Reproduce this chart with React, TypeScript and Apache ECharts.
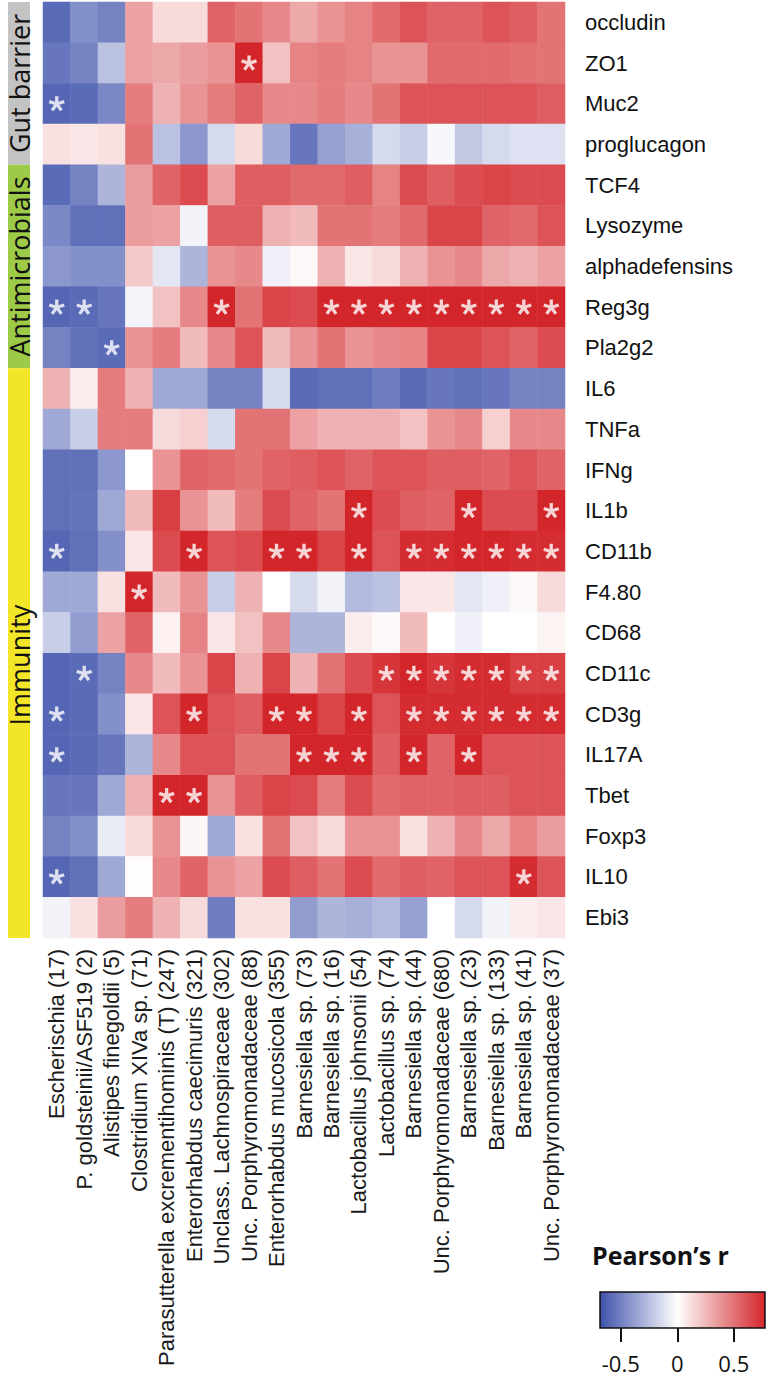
import React, { useEffect, useRef } from "react";
import * as echarts from "echarts";

// ---------- data ----------
const taxa = [
  "Escherischia (17)",
  "P. goldsteinii/ASF519 (2)",
  "Alistipes finegoldii (5)",
  "Clostridium XIVa sp. (71)",
  "Parasutterella excrementihominis (T) (247)",
  "Enterorhabdus caecimuris (321)",
  "Unclass. Lachnospiraceae (302)",
  "Unc. Porphyromonadaceae (88)",
  "Enterorhabdus mucosicola (355)",
  "Barnesiella sp. (73)",
  "Barnesiella sp. (16)",
  "Lactobacillus johnsonii (54)",
  "Lactobacillus sp. (74)",
  "Barnesiella sp. (44)",
  "Unc. Porphyromonadaceae (680)",
  "Barnesiella sp. (23)",
  "Barnesiella sp. (133)",
  "Barnesiella sp. (41)",
  "Unc. Porphyromonadaceae (37)",
];

const genes = [
  "occludin", "ZO1", "Muc2", "proglucagon",
  "TCF4", "Lysozyme", "alphadefensins", "Reg3g", "Pla2g2",
  "IL6", "TNFa", "IFNg", "IL1b", "CD11b", "F4.80", "CD68", "CD11c", "CD3g", "IL17A", "Tbet", "Foxp3", "IL10", "Ebi3",
];

// Pearson's r, one row per gene, columns follow taxa
const gutBarrierR = [
  [-0.6, -0.45, -0.5, 0.3, 0.12, 0.12, 0.5, 0.45, 0.38, 0.28, 0.35, 0.4, 0.48, 0.55, 0.5, 0.5, 0.55, 0.52, 0.45],
  [-0.55, -0.5, -0.25, 0.3, 0.28, 0.32, 0.35, 0.72, 0.2, 0.4, 0.42, 0.4, 0.35, 0.35, 0.48, 0.48, 0.48, 0.46, 0.45],
  [-0.62, -0.6, -0.48, 0.42, 0.25, 0.35, 0.42, 0.5, 0.38, 0.38, 0.42, 0.38, 0.45, 0.55, 0.55, 0.55, 0.55, 0.55, 0.52],
  [0.1, 0.08, 0.1, 0.45, -0.25, -0.42, -0.15, 0.12, -0.35, -0.55, -0.38, -0.32, -0.15, -0.2, -0.03, -0.22, -0.15, -0.12, -0.12],
];
const antimicrobialsR = [
  [-0.6, -0.5, -0.3, 0.32, 0.5, 0.58, 0.3, 0.52, 0.52, 0.48, 0.48, 0.52, 0.4, 0.58, 0.52, 0.58, 0.6, 0.58, 0.58],
  [-0.48, -0.58, -0.58, 0.32, 0.3, -0.05, 0.52, 0.52, 0.25, 0.22, 0.45, 0.45, 0.42, 0.48, 0.6, 0.6, 0.5, 0.48, 0.55],
  [-0.42, -0.45, -0.45, 0.18, -0.1, -0.3, 0.35, 0.38, -0.06, 0.02, 0.25, 0.08, 0.12, 0.25, 0.35, 0.38, 0.28, 0.25, 0.3],
  [-0.62, -0.6, -0.55, -0.04, 0.2, 0.38, 0.7, 0.45, 0.6, 0.58, 0.72, 0.72, 0.72, 0.72, 0.72, 0.72, 0.72, 0.72, 0.72],
  [-0.5, -0.58, -0.6, 0.35, 0.42, 0.22, 0.38, 0.55, 0.22, 0.35, 0.45, 0.35, 0.38, 0.4, 0.6, 0.6, 0.55, 0.5, 0.58],
];
const immunityR = [
  [0.25, 0.06, 0.42, 0.25, -0.35, -0.35, -0.5, -0.5, -0.15, -0.6, -0.58, -0.58, -0.52, -0.6, -0.55, -0.58, -0.55, -0.5, -0.5],
  [-0.35, -0.2, 0.42, 0.42, 0.12, 0.15, -0.15, 0.45, 0.45, 0.3, 0.25, 0.25, 0.25, 0.2, 0.35, 0.38, 0.15, 0.38, 0.38],
  [-0.58, -0.58, -0.42, 0.0, 0.35, 0.5, 0.48, 0.45, 0.5, 0.52, 0.55, 0.5, 0.55, 0.55, 0.52, 0.52, 0.5, 0.55, 0.5],
  [-0.58, -0.56, -0.35, 0.22, 0.62, 0.35, 0.22, 0.42, 0.58, 0.5, 0.45, 0.7, 0.58, 0.52, 0.5, 0.7, 0.58, 0.58, 0.7],
  [-0.62, -0.58, -0.45, 0.08, 0.58, 0.72, 0.55, 0.58, 0.72, 0.7, 0.6, 0.72, 0.55, 0.68, 0.68, 0.7, 0.7, 0.68, 0.68],
  [-0.35, -0.35, 0.1, 0.7, 0.22, 0.35, -0.2, 0.25, 0.0, -0.15, -0.05, -0.28, -0.25, 0.08, 0.08, -0.1, -0.06, 0.02, 0.12],
  [-0.2, -0.4, 0.3, 0.5, 0.05, 0.4, 0.08, 0.2, 0.38, -0.3, -0.3, 0.06, 0.02, 0.22, 0.0, -0.06, 0.0, 0.0, 0.04],
  [-0.62, -0.6, -0.5, 0.38, 0.22, 0.35, 0.6, 0.25, 0.6, 0.25, 0.45, 0.58, 0.65, 0.7, 0.65, 0.68, 0.68, 0.62, 0.62],
  [-0.62, -0.6, -0.45, 0.08, 0.55, 0.72, 0.55, 0.52, 0.72, 0.7, 0.6, 0.72, 0.55, 0.68, 0.68, 0.68, 0.68, 0.68, 0.68],
  [-0.62, -0.6, -0.55, -0.3, 0.38, 0.55, 0.55, 0.45, 0.45, 0.7, 0.7, 0.72, 0.52, 0.7, 0.5, 0.7, 0.55, 0.55, 0.55],
  [-0.55, -0.55, -0.35, 0.25, 0.7, 0.72, 0.35, 0.52, 0.6, 0.58, 0.42, 0.58, 0.48, 0.5, 0.5, 0.52, 0.52, 0.55, 0.55],
  [-0.5, -0.45, -0.08, 0.12, 0.35, 0.03, -0.35, 0.1, 0.45, 0.2, 0.12, 0.35, 0.35, 0.1, 0.25, 0.38, 0.28, 0.4, 0.32],
  [-0.62, -0.58, -0.35, 0.01, 0.38, 0.5, 0.35, 0.3, 0.58, 0.52, 0.45, 0.58, 0.48, 0.52, 0.5, 0.55, 0.55, 0.68, 0.55],
  [-0.05, 0.1, 0.32, 0.42, 0.25, 0.12, -0.52, 0.1, 0.1, -0.4, -0.3, -0.32, -0.28, -0.38, 0.0, -0.15, -0.05, 0.06, 0.08],
];

// significant correlations: gene -> taxa column indices
const significant: Record<string, number[]> = {
  ZO1: [7],
  Muc2: [0],
  Reg3g: [0, 1, 6, 10, 11, 12, 13, 14, 15, 16, 17, 18],
  Pla2g2: [2],
  IL1b: [11, 15, 18],
  CD11b: [0, 5, 8, 9, 11, 13, 14, 15, 16, 17, 18],
  "F4.80": [3],
  CD11c: [1, 12, 13, 14, 15, 16, 17, 18],
  CD3g: [0, 5, 8, 9, 11, 13, 14, 15, 16, 17, 18],
  IL17A: [0, 9, 10, 11, 13, 15],
  Tbet: [4, 5],
  IL10: [0, 17],
};

const groups = [
  { name: "Gut barrier", first: "occludin", last: "proglucagon", color: "#c3c3c3" },
  { name: "Antimicrobials", first: "TCF4", last: "Pla2g2", color: "#9dcb48" },
  { name: "Immunity", first: "IL6", last: "Ebi3", color: "#f3e629" },
];

const legendTicks = [-0.5, 0, 0.5];
const legendMin = -0.684;
const legendMax = 0.776;

// ---------- styling / layout ----------
const BLUE = "#3f52ab";
const RED = "#d3262a";
const GRID = { left: 43, top: 2, width: 522, height: 936 };

function asteriskPath(): string {
  const L = 10;
  const w = 2.1;
  const rin = w / Math.sin(Math.PI / 5);
  const pts: string[] = [];
  for (let k = 0; k < 5; k++) {
    const a = -Math.PI / 2 + (k * 2 * Math.PI) / 5;
    const tx = L * Math.cos(a), ty = L * Math.sin(a);
    const px = -Math.sin(a), py = Math.cos(a);
    pts.push(`${(tx - w * px).toFixed(3)} ${(ty - w * py).toFixed(3)}`);
    pts.push(`${(tx + w * px).toFixed(3)} ${(ty + w * py).toFixed(3)}`);
    const b = a + Math.PI / 5;
    pts.push(`${(rin * Math.cos(b)).toFixed(3)} ${(rin * Math.sin(b)).toFixed(3)}`);
  }
  return "path://M" + pts.join(" L") + " Z";
}

export default function App() {
  const ref = useRef<HTMLDivElement>(null);

  useEffect(() => {
    if (!ref.current) return;
    const chart = echarts.init(ref.current, null, { renderer: "svg" });

    const allRows = [...gutBarrierR, ...antimicrobialsR, ...immunityR];
    const heat: number[][] = [];
    allRows.forEach((row, gi) => row.forEach((v, ti) => heat.push([ti, gi, v])));

    const stars: number[][] = [];
    Object.keys(significant).forEach((g) => {
      const gi = genes.indexOf(g);
      significant[g].forEach((ti) => stars.push([ti, gi]));
    });

    const rowH = GRID.height / genes.length;
    const graphics: any[] = [];
    groups.forEach((g) => {
      const i0 = genes.indexOf(g.first);
      const i1 = genes.indexOf(g.last);
      const y0 = GRID.top + i0 * rowH;
      const y1 = GRID.top + (i1 + 1) * rowH;
      graphics.push({
        type: "rect",
        shape: { x: 8, y: y0, width: 22, height: y1 - y0 },
        style: { fill: g.color },
        silent: true,
      });
      graphics.push({
        type: "text",
        x: 19,
        y: g.name === "Immunity" ? (y0 + y1) / 2 + 12 : (y0 + y1) / 2,
        rotation: Math.PI / 2,
        style: {
          text: g.name,
          fontSize: 27,
          fontFamily: "Open Sans",
          fill: "#111",
          align: "center",
          verticalAlign: "middle",
        },
        silent: true,
      });
    });

    const span = legendMax - legendMin;
    graphics.push({
      type: "rect",
      shape: { x: 600, y: 1292, width: 165, height: 36 },
      style: {
        fill: new echarts.graphic.LinearGradient(0, 0, 1, 0, [
          { offset: 0, color: BLUE },
          { offset: (0 - legendMin) / span, color: "#ffffff" },
          { offset: 1, color: RED },
        ]),
        stroke: "#111",
        lineWidth: 1.5,
      },
      silent: true,
    });
    graphics.push({
      type: "text",
      x: 592,
      y: 1255,
      style: {
        text: "Pearson\u2019s r",
        fontSize: 25,
        fontWeight: "bold",
        fontFamily: "Open Sans",
        fill: "#111",
        align: "left",
        verticalAlign: "middle",
      },
      silent: true,
    });

    chart.setOption({
      animation: false,
      backgroundColor: "#ffffff",
      grid: [
        { ...GRID },
        { left: 600, top: 1292, width: 165, height: 36 },
      ],
      xAxis: [
        {
          type: "category",
          gridIndex: 0,
          data: taxa,
          position: "bottom",
          axisLine: { show: false },
          axisTick: { show: false },
          splitLine: { show: false },
          axisLabel: {
            rotate: 90,
            interval: 0,
            margin: 11,
            fontSize: 22,
            fontFamily: "Liberation Sans",
            color: "#1a1a1a",
          },
        },
        {
          type: "value",
          gridIndex: 1,
          min: legendMin,
          max: legendMax,
          axisLine: { show: false },
          splitLine: { show: false },
          axisTick: {
            show: true,
            customValues: legendTicks,
            length: 14,
            lineStyle: { color: "#111", width: 2 },
          },
          axisLabel: {
            customValues: legendTicks,
            margin: 24,
            fontSize: 22,
            fontFamily: "Open Sans",
            color: "#111",
            formatter: (v: number) => String(v),
          },
        },
      ],
      yAxis: [
        {
          type: "category",
          gridIndex: 0,
          data: genes,
          inverse: true,
          position: "right",
          axisLine: { show: false },
          axisTick: { show: false },
          splitLine: { show: false },
          axisLabel: {
            margin: 20,
            fontSize: 22,
            fontFamily: "Liberation Sans",
            color: "#111",
          },
        },
        { type: "value", gridIndex: 1, show: false, min: 0, max: 1 },
      ],
      visualMap: {
        show: false,
        seriesIndex: 0,
        min: -0.7,
        max: 0.7,
        inRange: { color: [BLUE, "#ffffff", RED] },
      },
      series: [
        {
          type: "heatmap",
          xAxisIndex: 0,
          yAxisIndex: 0,
          data: heat,
          itemStyle: { borderWidth: 0 },
          emphasis: { disabled: true },
        },
        {
          type: "scatter",
          xAxisIndex: 0,
          yAxisIndex: 0,
          data: stars,
          symbol: asteriskPath(),
          symbolSize: 16,
          symbolKeepAspect: true,
          itemStyle: { color: "#ffffff" },
          z: 5,
          silent: true,
        },
      ],
      graphic: graphics,
    });

    return () => chart.dispose();
  }, []);

  return (
    <div
      ref={ref}
      style={{ position: "absolute", left: 0, top: 0, width: 777, height: 1395, background: "#fff" }}
    />
  );
}
